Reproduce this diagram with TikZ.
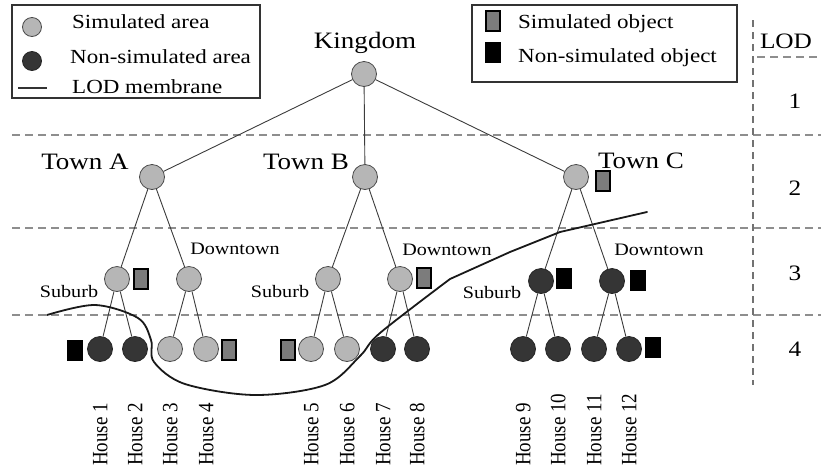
\documentclass[tikz,border=0pt]{standalone}
\usepackage{fontspec}
\setmainfont{Liberation Serif}[FakeStretch=1.15]
\newfontfamily\uprightserif{Liberation Serif}
\usetikzlibrary{calc}
\definecolor{simfill}{HTML}{B6B6B6}
\definecolor{simline}{HTML}{4A4A4A}
\definecolor{nonfill}{HTML}{353535}
\definecolor{objfill}{HTML}{7C7C7C}
\definecolor{edgecol}{HTML}{3C3C3C}
\definecolor{gridcol}{HTML}{8E8E8E}
\begin{document}
\begin{tikzpicture}[x=1pt,y=-1pt,
  sim/.style={circle,draw=simline,fill=simfill,line width=0.8pt,minimum size=25pt,inner sep=0pt},
  nonsim/.style={circle,draw=black!85,fill=nonfill,line width=0.8pt,minimum size=25pt,inner sep=0pt},
  simobj/.style={rectangle,draw=black,fill=objfill,line width=1.8pt,minimum width=14pt,minimum height=20pt,inner sep=0pt},
  nonobj/.style={rectangle,fill=black,minimum width=16pt,minimum height=21pt,inner sep=0pt},
  edge/.style={draw=edgecol,line width=0.9pt},
  levelline/.style={draw=gridcol,line width=1.6pt,dash pattern=on 8pt off 5pt},
  bigtxt/.style={font=\fontsize{23.5}{24}\selectfont,anchor=base,inner sep=0pt},
  areatxt/.style={font=\fontsize{17.5}{18}\selectfont,anchor=base,inner sep=0pt},
  legtxt/.style={font=\fontsize{20}{20}\selectfont,anchor=base west,inner sep=0pt},
  lodtxt/.style={font=\fontsize{22}{22}\selectfont,anchor=base,inner sep=0pt},
  housetxt/.style={rotate=90,anchor=mid west,inner sep=0pt,font=\uprightserif\fontsize{19}{19}\selectfont},
  legbox/.style={draw=black!80,line width=1.2pt},
  membrane/.style={draw=black!90,line width=1.8pt,line cap=round,line join=round}
]
\useasboundingbox (0,0) rectangle (821,472);

% LOD level separators
\draw[levelline] (12,135) -- (821,135);
\draw[levelline] (12,228) -- (821,228);
\draw[levelline] (12,315) -- (821,315);
\draw[levelline] (757,57) -- (821,57);
\draw[draw=gridcol!80!black,line width=1.3pt,dash pattern=on 7pt off 5pt] (753,20) -- (753,385);

% LOD column
\node[lodtxt] (lod)  at (786,48)  {LOD};
\node[lodtxt] (lod1) at (795,108) {1};
\node[lodtxt] (lod2) at (795,195) {2};
\node[lodtxt] (lod3) at (795,280) {3};
\node[lodtxt] (lod4) at (795,356) {4};

% tree nodes
\node[sim] (king) at (364,74) {};
\node[sim] (ta) at (152,177) {};
\node[sim] (tb) at (365,177) {};
\node[sim] (tc) at (576,177) {};

\node[sim] (sa) at (117,279) {};
\node[sim] (da) at (189,279) {};
\node[sim] (sb) at (328,279) {};
\node[sim] (db) at (400,279) {};
\node[nonsim] (sc) at (541,281) {};
\node[nonsim] (dc) at (612,281) {};

\node[nonsim] (h1) at (100,349) {};
\node[nonsim] (h2) at (135,349) {};
\node[sim] (h3) at (170,349) {};
\node[sim] (h4) at (206,349) {};
\node[sim] (h5) at (311,349) {};
\node[sim] (h6) at (347,349) {};
\node[nonsim] (h7) at (383,349) {};
\node[nonsim] (h8) at (417,349) {};
\node[nonsim] (h9) at (523,349) {};
\node[nonsim] (h10) at (558,349) {};
\node[nonsim] (h11) at (594,349) {};
\node[nonsim] (h12) at (629,349) {};

% edges
\path[edge] (king) -- (ta);
\path[edge] (king) -- (tb);
\path[edge] (king) -- (tc);
\path[edge] (ta) -- (sa);
\path[edge] (ta) -- (da);
\path[edge] (tb) -- (sb);
\path[edge] (tb) -- (db);
\path[edge] (tc) -- (sc);
\path[edge] (tc) -- (dc);
\path[edge] (sa) -- (h1);
\path[edge] (sa) -- (h2);
\path[edge] (da) -- (h3);
\path[edge] (da) -- (h4);
\path[edge] (sb) -- (h5);
\path[edge] (sb) -- (h6);
\path[edge] (db) -- (h7);
\path[edge] (db) -- (h8);
\path[edge] (sc) -- (h9);
\path[edge] (sc) -- (h10);
\path[edge] (dc) -- (h11);
\path[edge] (dc) -- (h12);

% objects
\node[simobj] (otc) at (603,181) {};
\node[simobj] (osa) at (141,279) {};
\node[simobj] (odb) at (424,278) {};
\node[nonobj] (osc) at (564,278) {};
\node[nonobj] (odc) at (638,280) {};
\node[nonobj] (oh1) at (75,350) {};
\node[simobj] (oh4) at (229,350) {};
\node[simobj] (oh5) at (288,350) {};
\node[nonobj] (oh12) at (653,347) {};

% labels
\node[bigtxt] (lk) at (365,48) {Kingdom};
\node[bigtxt] (lta) at (85,169) {Town A};
\node[bigtxt] (ltb) at (306,169) {Town B};
\node[bigtxt] (ltc) at (641,168) {Town C};
\node[areatxt] (lda) at (235,254) {Downtown};
\node[areatxt] (ldb) at (447,255) {Downtown};
\node[areatxt] (ldc) at (659,255) {Downtown};
\node[areatxt] (lsa) at (69,297) {Suburb};
\node[areatxt] (lsb) at (280,297) {Suburb};
\node[areatxt] (lsc) at (492,298) {Suburb};

% house names
\foreach \h/\n in {h1/1,h2/2,h3/3,h4/4,h5/5,h6/6,h7/7,h8/8,h9/9,h10/10,h11/11,h12/12}{
  \node[housetxt] (l\h) at ($(\h.center)+(5,117)$) {\scalebox{1}[1.15]{House \n}};
}

% LOD membrane
\draw[membrane] plot[smooth,tension=0.55] coordinates {
  (47,315) (95,305) (138,318) (151,340) (154,362) (185,384) (255,395)
  (325,385) (360,356) (380,333) (450,279)}
  -- (510,252) -- (560,232) -- (647,212);

% legend: areas
\draw[legbox] (12,5) rectangle (260,98);
\node[sim,minimum size=19pt] (lg1) at (32,27) {};
\node[nonsim,minimum size=19pt] (lg2) at (32,61) {};
\coordinate (lg3a) at (18,88);
\coordinate (lg3b) at (47,88);
\draw[draw=black!80,line width=1.3pt] (lg3a) -- (lg3b);
\node[legtxt] (lt1) at (72,28) {Simulated area};
\node[legtxt] (lt2) at (70,63) {Non-simulated area};
\node[legtxt] (lt3) at (72,93) {LOD membrane};

% legend: objects
\draw[legbox] (472,5) rectangle (737,82);
\node[simobj] (lg4) at (493,21) {};
\node[nonobj] (lg5) at (493,52) {};
\node[legtxt] (lt4) at (518,28) {Simulated object};
\node[legtxt] (lt5) at (518,62) {Non-simulated object};
\end{tikzpicture}
\end{document}
